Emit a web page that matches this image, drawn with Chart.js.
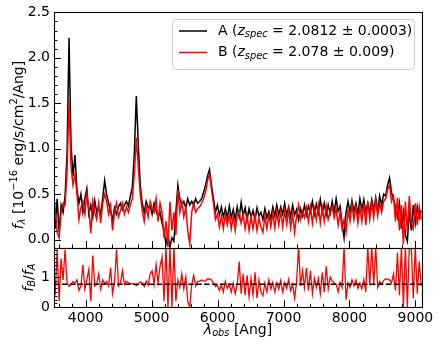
<!DOCTYPE html>
<html><head><meta charset="utf-8">
<script src="https://cdn.jsdelivr.net/npm/chart.js@4/dist/chart.umd.min.js"></script>
<style>html,body{margin:0;padding:0;background:#fff}canvas{display:block}</style>
</head><body>
<canvas id="c" width="440" height="350"></canvas>
<script>
// ---------------- data ----------------
const wavelength = [3508,3538,3568,3598,3628,3658,3688,3718,3748,3778,3808,3838,3868,3898,3928,3958,3988,4018,4048,4078,4108,4138,4168,4198,4228,4258,4288,4318,4348,4378,4408,4438,4468,4498,4528,4558,4588,4618,4648,4678,4708,4738,4768,4798,4828,4858,4888,4918,4948,4978,5008,5038,5068,5098,5128,5158,5188,5218,5248,5278,5308,5338,5368,5398,5428,5458,5488,5518,5548,5578,5608,5638,5668,5698,5728,5758,5788,5818,5848,5878,5908,5938,5968,5998,6028,6058,6088,6118,6148,6178,6208,6238,6268,6298,6328,6358,6388,6418,6448,6478,6508,6538,6568,6598,6628,6658,6688,6718,6748,6778,6808,6838,6868,6898,6928,6958,6988,7018,7048,7078,7108,7138,7168,7198,7228,7258,7288,7318,7348,7378,7408,7438,7468,7498,7528,7558,7588,7618,7648,7678,7708,7738,7768,7798,7828,7858,7888,7918,7948,7978,8008,8038,8068,8098,8128,8158,8188,8218,8248,8278,8308,8338,8368,8398,8428,8458,8488,8518,8548,8578,8608,8638,8668,8698,8728,8758,8788,8818,8848,8878,8908,8938,8968,8998,9028,9058,9088];

const fluxA = [0.40,0.12,0.45,0.08,0.38,0.30,0.48,0.95,2.22,1.05,
0.70,0.93,0.55,0.40,0.50,0.30,0.45,0.56,0.28,0.38,
0.25,0.43,0.30,0.36,0.28,0.45,0.65,0.50,0.40,0.30,
0.22,0.35,0.28,0.36,0.40,0.33,0.38,0.42,0.37,0.48,
0.58,0.95,1.58,1.05,0.60,0.40,0.30,0.42,0.35,0.38,
0.28,0.40,0.32,0.25,0.30,0.18,0.10,-0.05,0.05,-0.08,
0.02,-0.02,0.30,0.60,0.45,0.38,0.42,0.35,0.45,0.38,
0.42,0.38,0.45,0.40,0.42,0.45,0.52,0.60,0.70,0.77,
0.60,0.45,0.30,0.38,0.27,0.36,0.25,0.34,0.24,0.37,
0.24,0.33,0.22,0.36,0.25,0.41,0.26,0.35,0.22,0.34,
0.25,0.32,0.21,0.35,0.26,0.30,0.22,0.34,0.24,0.31,
0.23,0.36,0.26,0.38,0.27,0.36,0.28,0.40,0.27,0.36,
0.25,0.38,0.27,0.33,0.22,0.34,0.26,0.38,0.27,0.37,
0.30,0.42,0.28,0.39,0.29,0.44,0.30,0.40,0.27,0.38,
0.29,0.42,0.30,0.45,0.31,0.37,0.18,0.02,0.30,0.42,
0.30,0.43,0.31,0.40,0.28,0.45,0.33,0.44,0.30,0.40,
0.30,0.44,0.33,0.46,0.32,0.48,0.38,0.50,0.48,0.60,
0.68,0.52,0.44,0.36,0.25,0.40,0.12,0.30,0.05,-0.02,
0.32,0.10,0.38,0.18,0.36,0.24,0.32];

const fluxB = [0.52,0.35,0.08,0.02,0.30,0.40,0.38,0.75,1.53,0.80,
0.60,0.72,0.50,0.22,0.35,0.42,0.28,0.50,0.35,0.07,
0.42,0.30,0.22,0.40,0.18,0.40,0.50,0.42,0.28,0.38,
0.10,0.30,0.40,0.25,0.32,0.40,0.28,0.36,0.30,0.38,
0.45,0.72,1.12,0.80,0.50,0.32,0.20,0.36,0.25,0.42,
0.34,0.30,0.45,0.20,0.40,0.30,0.02,0.20,-0.08,0.42,
0.10,0.30,0.05,0.55,0.30,0.42,0.25,0.35,0.10,-0.05,
0.30,0.40,0.30,0.34,0.36,0.40,0.45,0.52,0.65,0.72,
0.55,0.40,0.22,0.28,0.14,0.26,0.12,0.28,0.16,0.27,
0.12,0.26,0.10,0.27,0.30,0.18,0.28,0.12,0.26,0.10,
0.25,0.12,0.27,0.10,0.24,0.14,0.08,0.26,0.12,0.27,
0.14,0.29,0.13,0.30,0.16,0.31,0.14,0.32,0.17,0.33,
0.13,0.28,0.08,0.26,0.38,0.22,0.31,0.24,0.35,0.20,
0.36,0.18,0.34,0.22,0.38,0.18,0.35,0.20,0.37,0.22,
0.30,0.36,0.24,0.34,0.16,0.30,0.12,0.22,0.08,0.32,
0.20,0.38,0.22,0.36,0.18,0.35,0.20,0.40,0.16,0.42,
0.22,0.40,0.24,0.44,0.26,0.40,0.30,0.42,0.45,0.55,
0.60,0.42,0.48,0.20,0.46,0.10,0.38,-0.05,0.42,0.08,
0.48,0.18,0.12,0.40,0.16,0.36,0.22];

const ratioBA = [1.2,0.4,1.9,0.2,1.6,0.9,1.9,0.8,0.69,0.75,
0.85,0.78,0.9,0.55,0.7,1.4,0.6,0.9,1.25,0.2,
1.7,0.7,0.75,1.1,0.6,0.9,0.77,0.85,0.7,1.3,
0.45,0.85,1.9,0.7,0.8,1.2,0.75,0.85,0.8,0.78,
0.77,0.76,0.71,0.76,0.83,0.8,0.68,0.86,0.72,1.1,
1.2,0.75,1.4,0.8,1.35,1.65,0.2,2.0,0.0,2.0,
0.0,2.0,0.2,0.9,0.65,1.1,0.6,1.0,0.2,0.0,
0.75,1.05,0.7,0.85,0.86,0.9,0.86,0.87,0.93,0.93,
0.9,0.8,0.68,0.72,0.55,0.75,0.5,0.85,0.62,0.75,
0.5,0.8,0.45,0.75,1.5,0.45,1.1,0.4,1.05,0.35,
0.95,0.4,1.15,0.3,0.9,0.5,0.38,0.8,0.5,0.9,
0.6,0.82,0.5,0.8,0.6,0.88,0.5,0.8,0.62,0.92,
0.55,0.75,0.3,0.82,2.0,0.7,1.2,0.65,1.3,0.55,
1.2,0.45,0.95,0.65,0.95,0.45,1.15,0.5,1.35,0.6,
1.0,0.86,0.8,0.76,0.5,0.82,0.65,2.0,0.25,0.8,
0.65,0.9,0.7,0.9,0.62,0.8,0.6,0.92,0.5,2.0,
0.72,2.0,0.72,2.0,0.65,0.85,0.75,0.88,0.94,0.92,
0.9,0.8,1.1,0.55,1.8,0.4,2.0,0.0,2.0,0.0,
2.0,1.9,0.3,2.0,0.45,1.5,0.7];

const ratioLevel = 0.76;
const xRange = [3520, 9100];
const fluxRange = [-0.092, 2.5];
const ratioRange = [0, 1.95];
const xTicks = [4000, 5000, 6000, 7000, 8000, 9000];
const xMinorStep = 200;
const fluxTicks = [0, 0.5, 1.0, 1.5, 2.0, 2.5];
const fluxMinorStep = 0.1;
const ratioTicks = [0, 1];
const ratioMinorStep = 0.125;
const legendItems = [
  {label: 'A', z: '2.0812 ± 0.0003', color: '#000000'},
  {label: 'B', z: '2.078 ± 0.009', color: '#ff0000'}
];

// ---------------- rendering ----------------
const FONT = '"DejaVu Sans", sans-serif';
const FS = 14;
function segFont(g, size){ return (g.it ? 'italic ' : '') + (size * (g.s || 1)).toFixed(2) + 'px ' + FONT; }
function richWidth(ctx, segs, size){ let w = 0; for (const g of segs){ ctx.font = segFont(g, size); w += ctx.measureText(g.t).width; } return w; }
function drawRich(ctx, segs, x, y, size, align){
  const w = richWidth(ctx, segs, size);
  let cx = align === 'center' ? x - w/2 : (align === 'right' ? x - w : x);
  ctx.textAlign = 'left'; ctx.textBaseline = 'middle';
  for (const g of segs){ ctx.font = segFont(g, size); ctx.fillText(g.t, cx, y + (g.dy || 0) * size); cx += ctx.measureText(g.t).width; }
}
const SUB = {s: 0.7, dy: 0.25}, SUP = {s: 0.7, dy: -0.35};
const yTitleFlux = [{t:'f',it:1},Object.assign({t:'λ',it:1},SUB),{t:' [10'},Object.assign({t:'−16'},SUP),{t:' erg/s/cm'},Object.assign({t:'2'},SUP),{t:'/Ang]'}];
const yTitleRatio = [{t:'f',it:1},Object.assign({t:'B',it:1},SUB),{t:'/'},{t:'f',it:1},Object.assign({t:'A',it:1},SUB)];
const xTitle = [{t:'λ',it:1},Object.assign({t:'obs',it:1},SUB),{t:' [Ang]'}];

const panelClip = {
  id: 'panelClip',
  beforeDatasetDraw(chart, args){
    const meta = chart.getDatasetMeta(args.index);
    const ys = chart.scales[meta.yAxisID];
    const a = chart.chartArea;
    const ctx = chart.ctx;
    ctx.save(); ctx.beginPath(); ctx.rect(a.left, ys.top, a.right - a.left, ys.bottom - ys.top); ctx.clip();
  },
  afterDatasetDraw(chart){ chart.ctx.restore(); }
};

const frame = {
  id: 'frame',
  beforeDraw(chart){ const c = chart.ctx; c.save(); c.fillStyle = '#fff'; c.fillRect(0,0,chart.width,chart.height); c.restore(); },
  afterDraw(chart){
    const ctx = chart.ctx, xs = chart.scales.x, yf = chart.scales.yFlux, yr = chart.scales.yRatio;
    const L = chart.chartArea.left, R = chart.chartArea.right;
    ctx.save();
    ctx.strokeStyle = '#000'; ctx.lineWidth = 1; ctx.fillStyle = '#000';
    const major = 7, minor = 3.5;
    function vtick(x, yb, len){ ctx.beginPath(); ctx.moveTo(Math.round(x)+0.5, yb); ctx.lineTo(Math.round(x)+0.5, yb - len); ctx.stroke(); }
    function htick(y, len){ ctx.beginPath(); ctx.moveTo(L, Math.round(y)+0.5); ctx.lineTo(L + len, Math.round(y)+0.5); ctx.stroke(); }
    for (const ys of [yf, yr]){
      for (let v = Math.ceil(xRange[0]/xMinorStep)*xMinorStep; v <= xRange[1]; v += xMinorStep){
        const isMaj = xTicks.includes(v);
        vtick(xs.getPixelForValue(v), ys.bottom, isMaj ? major : minor);
      }
    }
    for (let k = Math.ceil(fluxRange[0]/fluxMinorStep); k*fluxMinorStep <= fluxRange[1] + 1e-9; k++){
      const v = +(k*fluxMinorStep).toFixed(3);
      htick(yf.getPixelForValue(v), fluxTicks.some(t => Math.abs(t - v) < 1e-6) ? major : minor);
    }
    for (let k = 0; k*ratioMinorStep <= ratioRange[1] + 1e-9; k++){
      const v = k*ratioMinorStep;
      htick(yr.getPixelForValue(v), ratioTicks.some(t => Math.abs(t - v) < 1e-6) ? major : minor);
    }
    ctx.lineWidth = 1.1;
    for (const ys of [yf, yr]){
      ctx.strokeRect(Math.round(L)+0.5, Math.round(ys.top)+0.5, Math.round(R) - Math.round(L), Math.round(ys.bottom) - Math.round(ys.top));
    }
    ctx.fillStyle = '#000';
    ctx.save(); ctx.translate(19, 145); ctx.rotate(-Math.PI/2); drawRich(ctx, yTitleFlux, 0, 0, FS, 'center'); ctx.restore();
    ctx.save(); ctx.translate(29, (yr.top + yr.bottom)/2); ctx.rotate(-Math.PI/2); drawRich(ctx, yTitleRatio, 0, 0, FS, 'center'); ctx.restore();
    drawRich(ctx, xTitle, (L + R)/2, 330, FS, 'center');
    const bx = 172.5, by = 19.5, bw = 242, bh = 50;
    ctx.beginPath(); ctx.roundRect(bx, by, bw, bh, 4);
    ctx.fillStyle = 'rgba(255,255,255,0.8)'; ctx.fill();
    ctx.strokeStyle = '#cccccc'; ctx.lineWidth = 1; ctx.stroke();
    legendItems.forEach((it, i) => {
      const y = 31 + i*21.5;
      ctx.strokeStyle = it.color; ctx.lineWidth = 1.5;
      ctx.beginPath(); ctx.moveTo(179, y); ctx.lineTo(207, y); ctx.stroke();
      ctx.fillStyle = '#000';
      drawRich(ctx, [{t: it.label + ' ('}, {t:'z', it:1}, Object.assign({t:'spec', it:1}, SUB), {t: ' = ' + it.z + ')'}], 218, y, FS, 'left');
    });
    ctx.restore();
  }
};

const pts = (ys) => wavelength.map((w, i) => ({x: w, y: ys[i]}));
const tickFont = {family: FONT, size: FS};

new Chart(document.getElementById('c'), {
  type: 'line',
  data: {
    datasets: [
      {label: 'ratio level', data: [{x: xRange[0], y: ratioLevel}, {x: xRange[1], y: ratioLevel}], yAxisID: 'yRatio', borderColor: '#000', borderWidth: 1.5, borderDash: [5.5, 2.4], order: 0},
      {label: 'fB/fA', data: pts(ratioBA), yAxisID: 'yRatio', borderColor: '#ff0000', borderWidth: 1.3, order: 1},
      {label: 'B', data: pts(fluxB), yAxisID: 'yFlux', borderColor: '#ff0000', borderWidth: 1.5, order: 2},
      {label: 'A', data: pts(fluxA), yAxisID: 'yFlux', borderColor: '#000000', borderWidth: 1.5, order: 3}
    ]
  },
  options: {
    responsive: false, animation: false, devicePixelRatio: 1,
    layout: {padding: {top: 11, right: 18, left: 0, bottom: 0}},
    elements: {point: {radius: 0}, line: {tension: 0, fill: false}},
    plugins: {legend: {display: false}, tooltip: {enabled: false}},
    scales: {
      x: {type: 'linear', min: xRange[0], max: xRange[1],
        afterBuildTicks: s => { s.ticks = xTicks.map(v => ({value: v})); },
        afterFit: s => { s.height = 42.7; },
        ticks: {font: tickFont, color: '#000', padding: 3, autoSkip: false, maxRotation: 0, callback: v => String(v)},
        grid: {display: false, drawTicks: false}, border: {display: false}},
      yRatio: {type: 'linear', position: 'left', stack: 'panels', stackWeight: 1, min: ratioRange[0], max: ratioRange[1],
        afterBuildTicks: s => { s.ticks = ratioTicks.map(v => ({value: v})); },
        afterFit: s => { s.width = 54; },
        ticks: {font: tickFont, color: '#000', padding: 4, autoSkip: false, callback: v => String(v)},
        grid: {display: false, drawTicks: false}, border: {display: false}},
      yFlux: {type: 'linear', position: 'left', stack: 'panels', stackWeight: 3.97, min: fluxRange[0], max: fluxRange[1],
        afterBuildTicks: s => { s.ticks = fluxTicks.map(v => ({value: v})); },
        afterFit: s => { s.width = 54; },
        ticks: {font: tickFont, color: '#000', padding: 4, autoSkip: false, callback: v => v.toFixed(1)},
        grid: {display: false, drawTicks: false}, border: {display: false}}
    }
  },
  plugins: [panelClip, frame]
});
</script>
</body></html>
